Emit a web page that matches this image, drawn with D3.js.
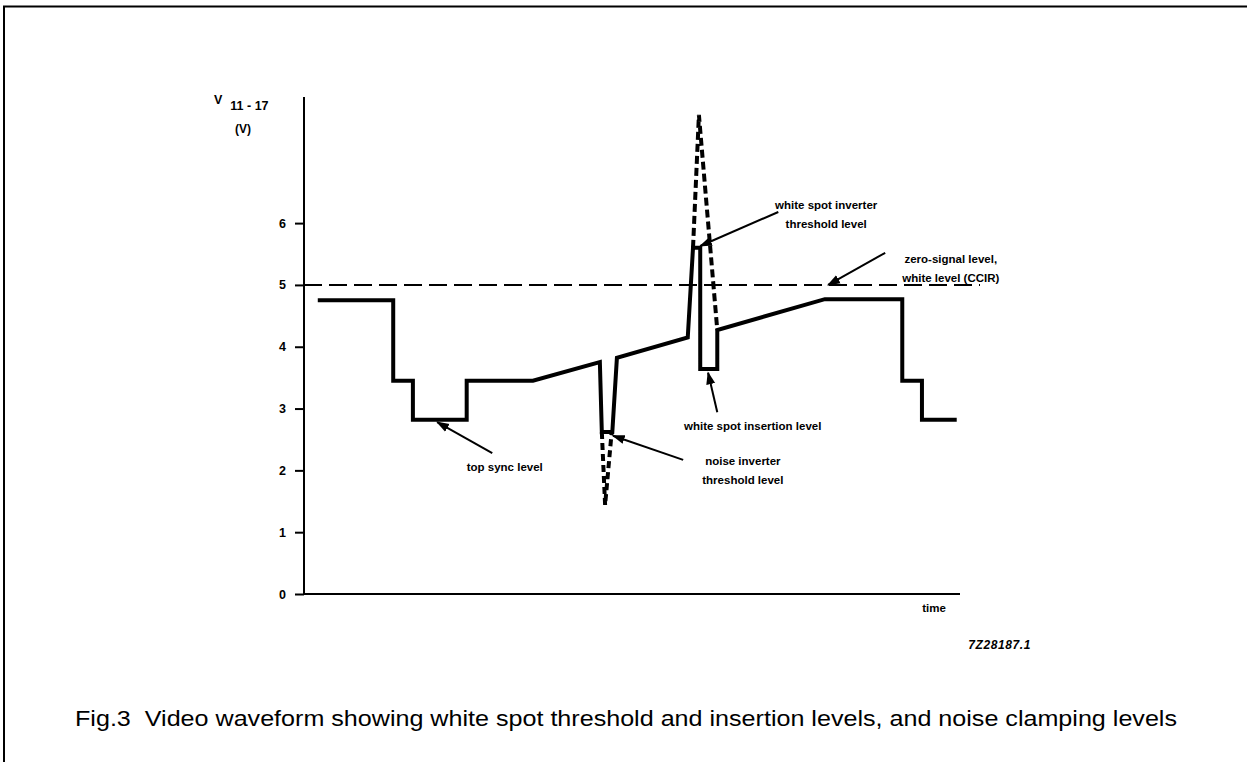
<!DOCTYPE html>
<html><head><meta charset="utf-8">
<script src="https://cdn.jsdelivr.net/npm/d3@7"></script>
<style>
html,body{margin:0;padding:0;background:#fff;}
svg{display:block;}
text{font-family:"Liberation Sans",Arial,Helvetica,sans-serif;fill:#000;}
</style></head>
<body>
<svg id="chart" width="1247" height="762"></svg>
<script>
// ---- data (time in arbitrary units 0..100, voltage in V) ----
const yTicks = [0, 1, 2, 3, 4, 5, 6];
const zeroSignalLevel = 5;
const waveT = [2.1, 13.6, 13.6, 16.6, 16.6, 24.8, 24.8, 34.9, 45.1, 45.4, 47.0, 47.7, 58.5, 59.3, 60.4, 60.4, 63.0, 63.0, 79.4, 91.2, 91.2, 94.2, 94.2, 99.5];
const waveV = [4.75, 4.75, 3.45, 3.45, 2.82, 2.82, 3.45, 3.45, 3.75, 2.62, 2.62, 3.82, 4.15, 5.6, 5.6, 3.64, 3.64, 4.27, 4.77, 4.77, 3.45, 3.45, 2.82, 2.82];
const whiteSpikeT = [59.3, 60.2, 63.0];
const whiteSpikeV = [5.6, 7.75, 4.27];
const noiseSpikeT = [45.4, 45.9, 46.9];
const noiseSpikeV = [2.62, 1.44, 2.62];
const annoText = [["white spot inverter", "threshold level"], ["zero-signal level,", "white level (CCIR)"], ["white spot insertion level"], ["noise inverter", "threshold level"], ["top sync level"]];
const annoTextT = [79.6, 98.6, 68.4, 66.9, 30.6];
const annoTextV = [6.23, 5.36, 2.65, 2.09, 1.99];
const arrowFromT = [72.3, 88.6, 63.0, 57.8, 28.7];
const arrowFromV = [6.18, 5.52, 2.94, 2.17, 2.28];
const arrowToT = [60.4, 79.9, 61.6, 47.1, 20.3];
const arrowToV = [5.63, 5.0, 3.58, 2.56, 2.78];
const caption = "Fig.3  Video waveform showing white spot threshold and insertion levels, and noise clamping levels";
const figCode = "7Z28187.1";

// ---- drawing ----
const svg = d3.select("#chart");
const x = d3.scaleLinear().domain([0, 100]).range([304, 960]);
const y = d3.scaleLinear().domain([0, 8.04]).range([594, 97]);

// frame
svg.append("path").attr("d", "M4,762 V6.5 H1247").attr("fill", "none").attr("stroke", "#000").attr("stroke-width", 2);

// axes lines
svg.append("line").attr("x1", x(0)).attr("x2", x(0)).attr("y1", y(0)).attr("y2", y(8.04)).attr("stroke", "#000").attr("stroke-width", 2);
svg.append("line").attr("x1", x(0)).attr("x2", x(100)).attr("y1", y(0)).attr("y2", y(0)).attr("stroke", "#000").attr("stroke-width", 2);

const yAxis = d3.axisLeft(y).tickValues(yTicks).tickSize(9).tickPadding(9).tickFormat(d3.format("d"));
const ga = svg.append("g").attr("transform", `translate(${x(0)},0)`).call(yAxis);
ga.select(".domain").remove();
ga.selectAll(".tick line").attr("stroke", "#000").attr("stroke-width", 2);
ga.selectAll(".tick text").attr("font-family", "'Liberation Sans',Arial,sans-serif").attr("font-weight", "bold").attr("font-size", 12.5);

// y label
const yl = svg.append("text").attr("x", 214).attr("y", 104).attr("font-weight", "bold").attr("font-size", 12.5);
yl.append("tspan").text("V");
yl.append("tspan").attr("dx", 8).attr("dy", 6).text("11 - 17");
svg.append("text").attr("x", 243).attr("y", 133).attr("text-anchor", "middle").attr("font-weight", "bold").attr("font-size", 12).text("(V)");

// x label
svg.append("text").attr("x", 934).attr("y", 612).attr("text-anchor", "middle").attr("font-weight", "bold").attr("font-size", 11.5).text("time");
svg.append("text").attr("x", 1031).attr("y", 649).attr("text-anchor", "end").attr("font-weight", "bold").attr("font-style", "italic").attr("font-size", 12).attr("letter-spacing", 0.6).text(figCode);

// zero signal dashed line
svg.append("line").attr("x1", x(0)).attr("x2", 980).attr("y1", y(zeroSignalLevel)).attr("y2", y(zeroSignalLevel))
  .attr("stroke", "#000").attr("stroke-width", 2).attr("stroke-dasharray", "18,7");

const line = d3.line().x(d => x(d[0])).y(d => y(d[1]));

// spikes (dashed)
svg.append("path").datum(whiteSpikeT.map((t, i) => [t, whiteSpikeV[i]])).attr("d", line)
  .attr("fill", "none").attr("stroke", "#000").attr("stroke-width", 4).attr("stroke-dasharray", "8,4").attr("stroke-linejoin", "miter");
svg.append("path").datum(noiseSpikeT.map((t, i) => [t, noiseSpikeV[i]])).attr("d", line)
  .attr("fill", "none").attr("stroke", "#000").attr("stroke-width", 4).attr("stroke-dasharray", "7,4");

// waveform
svg.append("path").datum(waveT.map((t, i) => [t, waveV[i]])).attr("d", line)
  .attr("fill", "none").attr("stroke", "#000").attr("stroke-width", 4).attr("stroke-linejoin", "miter");

// arrows
const defs = svg.append("defs");
defs.append("marker").attr("id", "ah").attr("viewBox", "0 0 10 10").attr("refX", 9).attr("refY", 5)
  .attr("markerWidth", 13).attr("markerHeight", 13).attr("markerUnits", "userSpaceOnUse").attr("orient", "auto")
  .append("path").attr("d", "M0,1.5 L10,5 L0,8.5 Z").attr("fill", "#000");
arrowFromT.forEach((t, i) => {
  svg.append("line").attr("x1", x(t)).attr("y1", y(arrowFromV[i])).attr("x2", x(arrowToT[i])).attr("y2", y(arrowToV[i]))
    .attr("stroke", "#000").attr("stroke-width", 2).attr("marker-end", "url(#ah)");
});

// annotation texts
annoText.forEach((lines, i) => {
  const t = svg.append("text").attr("x", x(annoTextT[i])).attr("y", y(annoTextV[i])).attr("text-anchor", "middle")
    .attr("font-weight", "bold").attr("font-size", 11.5);
  lines.forEach((s, j) => t.append("tspan").attr("x", x(annoTextT[i])).attr("dy", j ? 19 : 0).text(s));
});

// caption
svg.append("text").attr("x", 75).attr("y", 726).attr("font-size", 22).style("white-space", "pre")
  .attr("textLength", 1102).attr("lengthAdjust", "spacingAndGlyphs").text(caption);
</script>
</body></html>
